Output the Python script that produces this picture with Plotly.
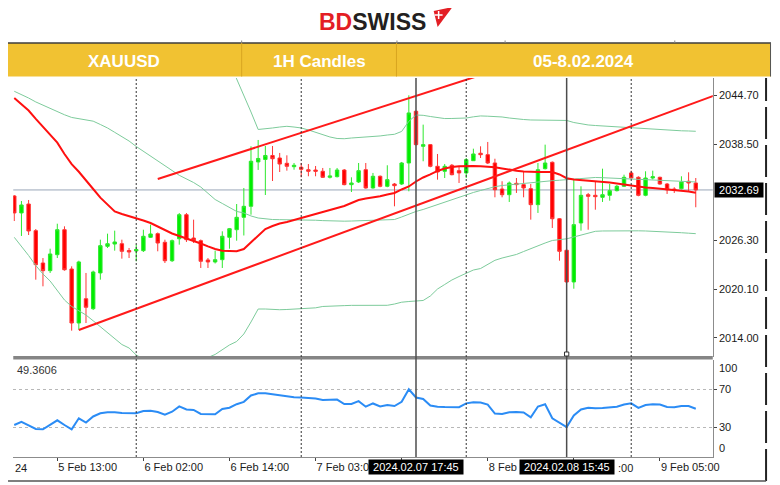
import plotly.graph_objects as go

# page offset: the browser body has an 8px margin, so the figure is sized to fit the 780x485 window
OFF = 8
W, H = 780 - OFF, 485 - OFF

# ---------------- data ----------------
sessions = [("5 Feb", 7, 23), ("6 Feb", 1, 23), ("7 Feb", 1, 23), ("8 Feb", 1, 23), ("9 Feb", 1, 10)]
times = [f"{d} {h:02d}:00" for d, a, b in sessions for h in range(a, b + 1)]
idx = list(range(len(times)))

opens = [2031.93, 2029.78, 2030.91, 2027.54, 2023.45, 2022.48, 2024.50, 2027.66, 2022.69, 2015.86,
         2018.93, 2017.67, 2022.19, 2025.56, 2025.85, 2025.89, 2025.03, 2024.97, 2025.01, 2026.70,
         2027.16, 2026.07, 2023.74, 2026.52, 2029.56, 2026.61, 2026.27, 2023.83, 2023.58, 2023.87,
         2026.70, 2027.66, 2029.23, 2030.62, 2036.23, 2036.54, 2037.05, 2036.73, 2036.06, 2035.63,
         2035.56, 2035.25, 2035.21, 2035.05, 2034.29, 2034.37, 2035.21, 2033.36, 2033.70, 2035.25,
         2032.94, 2034.42, 2033.15, 2033.44, 2033.44, 2036.10, 2042.64, 2038.21, 2038.42, 2035.68,
         2035.05, 2035.81, 2035.13, 2034.84, 2036.39, 2037.33, 2037.15, 2036.10, 2032.81, 2032.09,
         2033.53, 2033.36, 2032.85, 2030.83, 2035.38, 2036.19, 2029.05, 2025.06, 2021.05, 2028.51,
         2032.09, 2032.01, 2031.76, 2032.01, 2032.60, 2033.15, 2034.84, 2034.29, 2032.01, 2034.20,
         2034.29, 2033.44, 2032.81, 2032.85, 2033.79, 2033.57]
highs = [2032.05, 2031.29, 2031.42, 2027.75, 2024.08, 2025.26, 2028.42, 2028.09, 2023.03, 2023.74,
         2022.19, 2022.48, 2026.40, 2027.16, 2027.54, 2026.40, 2025.35, 2025.77, 2027.66, 2028.30,
         2027.31, 2026.40, 2026.42, 2029.77, 2029.77, 2028.93, 2026.42, 2024.08, 2025.01, 2027.46,
         2027.88, 2030.91, 2032.94, 2038.21, 2039.01, 2038.25, 2038.25, 2037.37, 2037.07, 2036.10,
         2036.10, 2035.97, 2035.72, 2035.47, 2035.47, 2035.47, 2035.34, 2034.29, 2036.10, 2036.10,
         2034.84, 2034.52, 2035.81, 2033.57, 2036.23, 2044.66, 2042.74, 2040.95, 2038.50, 2037.24,
         2035.97, 2035.97, 2035.68, 2036.73, 2037.91, 2038.21, 2038.76, 2036.64, 2033.79, 2033.76,
         2034.20, 2034.96, 2033.44, 2036.10, 2038.42, 2036.29, 2029.14, 2025.16, 2033.99, 2033.15,
         2032.31, 2033.79, 2035.38, 2033.44, 2033.32, 2034.62, 2035.13, 2034.42, 2035.05, 2035.13,
         2034.37, 2033.57, 2033.03, 2034.42, 2034.92, 2034.20]
lows = [2028.76, 2026.87, 2026.99, 2021.34, 2020.50, 2022.19, 2024.08, 2022.48, 2014.89, 2015.01,
        2015.86, 2017.50, 2021.34, 2025.35, 2025.01, 2024.00, 2024.08, 2023.66, 2024.84, 2026.61,
        2024.93, 2023.45, 2023.58, 2025.77, 2026.11, 2025.98, 2022.82, 2022.82, 2023.39, 2022.82,
        2025.26, 2026.27, 2026.93, 2029.56, 2035.22, 2032.05, 2033.82, 2034.96, 2035.13, 2035.25,
        2034.29, 2034.42, 2034.42, 2034.20, 2034.14, 2034.27, 2033.28, 2032.43, 2033.57, 2032.85,
        2032.85, 2033.03, 2033.03, 2030.62, 2033.32, 2032.52, 2038.31, 2036.32, 2035.56, 2033.99,
        2034.20, 2034.54, 2033.57, 2034.20, 2036.35, 2036.73, 2035.97, 2031.76, 2031.76, 2031.17,
        2032.31, 2031.76, 2028.93, 2029.78, 2035.28, 2027.88, 2023.74, 2020.92, 2020.20, 2027.54,
        2027.66, 2030.19, 2031.17, 2031.33, 2032.50, 2033.06, 2034.11, 2031.89, 2031.89, 2034.01,
        2033.36, 2032.18, 2032.31, 2032.75, 2032.52, 2030.50]
closes = [2029.78, 2030.79, 2027.50, 2023.24, 2022.48, 2024.59, 2027.66, 2022.60, 2015.86, 2023.58,
          2017.85, 2022.31, 2025.64, 2025.89, 2026.11, 2024.93, 2024.84, 2025.16, 2026.83, 2027.12,
          2025.98, 2023.74, 2026.27, 2029.56, 2026.40, 2026.27, 2023.67, 2023.58, 2023.87, 2026.83,
          2027.79, 2029.23, 2030.62, 2036.32, 2036.67, 2037.05, 2036.64, 2035.97, 2035.68, 2035.81,
          2035.30, 2035.05, 2035.05, 2034.29, 2034.46, 2035.21, 2033.36, 2033.57, 2035.13, 2032.94,
          2034.42, 2033.15, 2033.99, 2033.23, 2036.10, 2042.43, 2038.42, 2038.42, 2035.68, 2034.96,
          2035.68, 2034.62, 2034.84, 2036.52, 2037.24, 2037.15, 2036.10, 2032.72, 2032.09, 2033.57,
          2033.36, 2032.94, 2030.83, 2035.25, 2036.10, 2029.05, 2024.93, 2021.05, 2028.30, 2032.01,
          2031.89, 2031.84, 2032.09, 2032.60, 2033.15, 2034.29, 2034.20, 2032.01, 2034.20, 2034.37,
          2033.44, 2032.72, 2032.65, 2033.70, 2033.57, 2032.69]

ma_red = [2044.32, 2043.56, 2042.74, 2041.67, 2040.65, 2039.64, 2038.67, 2037.24, 2035.95, 2034.99,
          2033.97, 2032.81, 2031.72, 2030.82, 2029.97, 2029.65, 2029.40, 2029.14, 2028.83, 2028.51,
          2028.07, 2027.56, 2027.18, 2026.87, 2026.57, 2026.26, 2025.92, 2025.55, 2025.22, 2025.00,
          2024.94, 2024.93, 2025.22, 2026.04, 2026.93, 2027.75, 2028.13, 2028.45, 2028.64, 2028.89,
          2029.14, 2029.46, 2029.71, 2029.90, 2030.16, 2030.41, 2030.66, 2031.04, 2031.42, 2031.61,
          2031.74, 2031.90, 2032.12, 2032.31, 2032.75, 2033.13, 2033.76, 2034.27, 2034.65, 2035.09,
          2035.41, 2035.60, 2035.68, 2035.72, 2035.72, 2035.68, 2035.66, 2035.56, 2035.41, 2035.25,
          2035.13, 2035.03, 2034.96, 2034.96, 2034.96, 2034.96, 2034.65, 2034.18, 2034.01, 2033.95,
          2033.89, 2033.76, 2033.70, 2033.63, 2033.51, 2033.38, 2033.19, 2033.10, 2033.00, 2032.94,
          2032.85, 2032.77, 2032.69, 2032.62, 2032.49, 2032.34]

bb_upper = [2063.6, 2063.9, 2064.2, 2064.6, 2064.8, 2064.9, 2065.0, 2065.3, 2065.3, 2064.9,
            2064.3, 2063.3, 2062.3, 2061.4, 2060.5, 2059.6, 2058.9, 2058.0, 2057.3, 2056.6,
            2055.9, 2055.0, 2054.3, 2053.6, 2053.0, 2052.2, 2051.4, 2050.6, 2051.5, 2050.3,
            2048.9, 2046.73, 2044.70, 2042.55, 2040.34, 2040.40, 2040.53, 2040.65, 2040.74, 2040.65,
            2040.53, 2040.28, 2039.96, 2039.64, 2039.39, 2039.20, 2039.17, 2039.26, 2039.33, 2039.33,
            2039.39, 2039.52, 2039.64, 2039.73, 2040.09, 2041.37, 2042.17, 2042.13, 2041.98, 2041.86,
            2041.72, 2041.73, 2041.75, 2041.79, 2041.94, 2042.05, 2042.02, 2042.01, 2041.92, 2041.79,
            2041.67, 2041.60, 2041.54, 2041.52, 2041.49, 2041.48, 2041.47, 2041.48, 2041.22, 2041.03,
            2040.91, 2040.84, 2040.78, 2040.72, 2040.65, 2040.59, 2040.53, 2040.46, 2040.40, 2040.36,
            2040.31, 2040.28, 2040.21, 2040.17, 2040.15, 2040.11]
bb_mid = [2045.17, 2044.77, 2044.32, 2043.82, 2043.40, 2042.99, 2042.62, 2042.20, 2041.86, 2041.69,
          2041.54, 2041.39, 2040.97, 2040.53, 2039.98, 2039.45, 2038.88, 2038.19, 2037.56, 2036.99,
          2036.35, 2035.76, 2035.15, 2034.54, 2034.11, 2033.63, 2033.06, 2032.31, 2031.48, 2030.98,
          2030.47, 2029.97, 2029.78, 2029.40, 2029.14, 2029.02, 2028.95, 2028.93, 2028.93, 2028.93,
          2028.93, 2028.93, 2028.86, 2028.81, 2028.76, 2028.72, 2028.74, 2028.76, 2028.80, 2028.83,
          2028.85, 2028.89, 2028.92, 2028.95, 2029.27, 2029.65, 2029.97, 2030.22, 2030.54, 2030.85,
          2031.17, 2031.48, 2031.74, 2032.05, 2032.37, 2032.62, 2032.87, 2033.10, 2033.25, 2033.35,
          2033.44, 2033.54, 2033.63, 2033.70, 2033.79, 2033.86, 2033.92, 2033.99, 2034.04, 2034.10,
          2034.16, 2034.27, 2034.24, 2034.20, 2034.16, 2034.08, 2034.00, 2033.95, 2033.92, 2033.89,
          2033.86, 2033.82, 2033.79, 2033.75, 2033.72, 2033.70]
bb_lower = [2026.70, 2025.60, 2024.40, 2023.13, 2022.06, 2021.17, 2020.04, 2018.77, 2017.95, 2017.44,
            2016.87, 2016.14, 2015.42, 2014.59, 2013.90, 2013.14, 2012.70, 2011.81, 2011.31, 2010.93,
            2010.67, 2010.55, 2010.55, 2010.67, 2010.93, 2011.18, 2011.31, 2011.50, 2011.88, 2012.51,
            2013.08, 2013.52, 2014.47, 2015.99, 2017.63, 2017.63, 2017.57, 2017.54, 2017.57, 2017.61,
            2017.63, 2017.70, 2017.78, 2017.95, 2018.01, 2018.04, 2018.06, 2018.09, 2018.10, 2018.10,
            2018.10, 2018.10, 2018.10, 2018.26, 2018.49, 2018.58, 2018.60, 2018.71, 2019.28, 2020.16,
            2020.73, 2021.30, 2021.74, 2022.15, 2022.56, 2022.75, 2023.32, 2023.79, 2024.08, 2024.27,
            2024.53, 2024.90, 2025.28, 2025.66, 2025.98, 2026.30, 2026.42, 2026.51, 2026.74, 2026.99,
            2027.25, 2027.46, 2027.50, 2027.52, 2027.54, 2027.54, 2027.54, 2027.52, 2027.50, 2027.47,
            2027.46, 2027.41, 2027.35, 2027.28, 2027.22, 2027.16]

rsi = [32.4, 35.8, 31.9, 28.2, 27.9, 32.7, 37.3, 32.4, 27.9, 39.4,
       35.0, 41.3, 44.6, 45.7, 45.7, 44.9, 44.6, 44.6, 47.0, 47.3,
       46.0, 43.1, 46.3, 51.9, 48.7, 48.1, 43.9, 43.6, 43.6, 49.1,
       50.5, 54.1, 56.6, 63.2, 65.5, 65.5, 64.3, 63.2, 62.4, 61.4,
       61.2, 60.6, 60.0, 58.5, 58.9, 59.0, 54.3, 54.3, 57.3, 51.5,
       54.9, 51.7, 53.3, 52.2, 56.6, 69.7, 61.1, 59.6, 52.8, 51.5,
       51.2, 50.9, 51.0, 55.0, 56.2, 55.9, 53.8, 44.4, 43.9, 45.7,
       46.0, 45.5, 40.4, 51.7, 54.0, 39.4, 35.2, 30.3, 42.3, 48.6,
       50.4, 49.9, 50.2, 50.9, 51.4, 53.8, 55.0, 50.2, 53.3, 54.0,
       53.8, 51.2, 50.9, 52.2, 52.2, 49.36]
rsi_value_text = "49.3606"
rsi_levels = [70, 30]

last_price = 2032.69
price_ticks = [2044.70, 2038.50, 2026.30, 2020.10, 2014.00]

channel_lower_i = [9, 100]
channel_lower_p = [2014.975, 2045.45]
channel_upper_i = [20, 70]
channel_upper_p = [2034.08, 2048.67]

crosshairs = [("7 Feb 17:00", "2024.02.07 17:45"), ("8 Feb 15:00", "2024.02.08 15:45")]
header_cells = ["XAUUSD", "1H Candles", "05-8.02.2024"]

# time-axis labels every 12 candles; parts hidden behind the crosshair date boxes are left out
tick_idx = list(range(6, len(times), 12))
visible_label = {"7 Feb 03:00": "7 Feb 03:0", "7 Feb 15:00": "", "8 Feb 04:00": "8 Feb", "8 Feb 16:00": ""}
tick_txt = [visible_label.get(times[i], times[i]) for i in tick_idx]
first_label_tail = "24"      # end of the "5 Feb 2024" label, cut at the left edge
hidden_label_tail = ":00"    # end of the "8 Feb 16:00" label, right of the date box

# ---------------- derived ----------------
sep_idx = [i for i, t in enumerate(times) if t.endswith(" 01:00")]
cross_idx = [times.index(t) for t, _ in crosshairs]


def px(x):
    return (x - OFF) / W


def py(y):
    return 1 - (y - OFF) / H


XL, XR = 13.3, 718.3
MAIN_T, MAIN_B = 78, 357
RSI_T, RSI_B = 360, 457
x_range = [-0.14, 97.37]

TF = "Liberation Sans, Arial, sans-serif"
GREEN_BB = "#7dcb9b"

fig = go.Figure()
for band in (bb_upper, bb_mid, bb_lower):
    fig.add_trace(go.Scatter(x=idx, y=band, mode="lines", line=dict(color=GREEN_BB, width=1),
                             hoverinfo="skip", showlegend=False))
fig.add_trace(go.Candlestick(
    x=idx, open=opens, high=highs, low=lows, close=closes,
    increasing=dict(line=dict(color="#2ee82e", width=1), fillcolor="#00ee00"),
    decreasing=dict(line=dict(color="#ff3535", width=1), fillcolor="#ff0000"),
    whiskerwidth=0, hoverinfo="skip", showlegend=False))
fig.add_trace(go.Scatter(x=idx, y=ma_red, mode="lines", line=dict(color="#ff1010", width=2),
                         hoverinfo="skip", showlegend=False))
for xi, yp in ((channel_lower_i, channel_lower_p), (channel_upper_i, channel_upper_p)):
    fig.add_trace(go.Scatter(x=xi, y=yp, mode="lines", line=dict(color="#ff1a1a", width=2),
                             hoverinfo="skip", showlegend=False))
fig.add_trace(go.Scatter(x=idx, y=rsi, mode="lines", line=dict(color="#2b8cf5", width=2),
                         xaxis="x2", yaxis="y2", hoverinfo="skip", showlegend=False))

shapes = []
# header band
shapes.append(dict(type="rect", xref="paper", yref="paper", x0=px(8), x1=px(777), y0=py(76.5), y1=py(43),
                   fillcolor="#F1C232", line=dict(width=0), layer="below"))
shapes.append(dict(type="line", xref="paper", yref="paper", x0=px(8), x1=px(777), y0=py(43), y1=py(43),
                   line=dict(color="#3c3c3c", width=1.5)))
shapes.append(dict(type="line", xref="paper", yref="paper", x0=px(776.5), x1=px(776.5), y0=py(43), y1=py(76.5),
                   line=dict(color="#555555", width=1)))
for xx in (243.5, 399.5):
    shapes.append(dict(type="line", xref="paper", yref="paper", x0=px(xx), x1=px(xx), y0=py(43), y1=py(76.5),
                       line=dict(color="#d8a520", width=1)))
for xx in (243.5, 400, 509, 680):
    shapes.append(dict(type="line", xref="paper", yref="paper", x0=px(xx), x1=px(xx), y0=py(40.5), y1=py(43),
                       line=dict(color="#888888", width=1)))
# logo icon
shapes.append(dict(type="path", xref="paper", yref="paper",
                   path=f"M {px(437)},{py(11)} L {px(456)},{py(7)} L {px(441)},{py(27)} Z",
                   fillcolor="#E31E24", line=dict(width=0)))
shapes.append(dict(type="line", xref="paper", yref="paper", x0=px(438), x1=px(446), y0=py(15), y1=py(15),
                   line=dict(color="white", width=1.5)))
shapes.append(dict(type="line", xref="paper", yref="paper", x0=px(442), x1=px(442), y0=py(11), y1=py(19),
                   line=dict(color="white", width=1.5)))
# last price line
shapes.append(dict(type="line", xref="paper", yref="y", x0=px(XL), x1=px(XR), y0=last_price, y1=last_price,
                   line=dict(color="#9aa6b8", width=1), layer="below"))
# panel separator
shapes.append(dict(type="rect", xref="paper", yref="paper", x0=px(XL), x1=px(XR), y0=py(359.5), y1=py(356),
                   fillcolor="#858585", line=dict(width=0)))
# day separators and crosshairs
for i in sep_idx:
    shapes.append(dict(type="line", xref="x", yref="paper", x0=i, x1=i, y0=py(RSI_B), y1=py(MAIN_T),
                       line=dict(color="#333333", width=1, dash="2px,2px")))
for i in cross_idx:
    shapes.append(dict(type="line", xref="x", yref="paper", x0=i, x1=i, y0=py(RSI_B), y1=py(MAIN_T),
                       line=dict(color="#4d4d4d", width=1.5)))
# small marker at the bottom of the second crosshair
shapes.append(dict(type="rect", xref="x", yref="paper", x0=cross_idx[1] - 0.3, x1=cross_idx[1] + 0.3,
                   y0=py(356), y1=py(352), fillcolor="white", line=dict(color="#333333", width=1)))
# outer frame fragments
shapes.append(dict(type="line", xref="paper", yref="paper", x0=px(772), x1=px(772), y0=py(481), y1=py(78),
                   line=dict(color="#222222", width=2, dash="32px,6px")))
shapes.append(dict(type="line", xref="paper", yref="paper", x0=px(8), x1=px(772), y0=py(481), y1=py(481),
                   line=dict(color="#555555", width=1.5)))

ann = []
ann.append(dict(xref="paper", yref="paper", x=px(320), y=py(8), xanchor="left", yanchor="top",
                text="<b><span style='color:#E31E24'>BD</span>SWISS</b>", showarrow=False, borderpad=0,
                font=dict(family=TF, size=23, color="#231F20")))
for txt, cx in zip(header_cells, (125, 321.5, 588.5)):
    ann.append(dict(xref="paper", yref="paper", x=px(cx), y=py(61), xanchor="center", yanchor="middle",
                    text=f"<b>{txt}</b>", showarrow=False, font=dict(family=TF, size=17, color="white")))
ann.append(dict(xref="paper", yref="y", x=px(719.5), y=last_price, xanchor="left", yanchor="middle",
                text="\u00a0" + f"{last_price:.2f}" + "\u00a0", showarrow=False, bgcolor="black", borderpad=1,
                font=dict(family=TF, size=11, color="white")))
for i, (_, lab) in zip(cross_idx, crosshairs):
    ann.append(dict(xref="x2", yref="paper", x=i, y=py(466.5), xanchor="center", yanchor="middle",
                    text="\u00a0" + lab + "\u00a0", showarrow=False, bgcolor="black", borderpad=1,
                    font=dict(family=TF, size=11, color="white")))
ann.append(dict(xref="paper", yref="paper", x=px(13.5), y=py(468), xanchor="left", yanchor="middle",
                text=first_label_tail, showarrow=False, font=dict(family=TF, size=11, color="#1a1a1a")))
ann.append(dict(xref="paper", yref="paper", x=px(621), y=py(468), xanchor="left", yanchor="middle",
                text=hidden_label_tail, showarrow=False, font=dict(family=TF, size=11, color="#1a1a1a")))
ann.append(dict(xref="paper", yref="paper", x=px(15), y=py(370), xanchor="left", yanchor="middle",
                text=rsi_value_text, showarrow=False, font=dict(family=TF, size=11, color="#333333")))
ann.append(dict(xref="paper", yref="y2", x=px(723), y=100, xanchor="left", yanchor="top",
                text="100", showarrow=False, font=dict(family=TF, size=11, color="#1a1a1a")))
ann.append(dict(xref="paper", yref="y2", x=px(723), y=0, xanchor="left", yanchor="bottom",
                text="0", showarrow=False, font=dict(family=TF, size=11, color="#1a1a1a")))

tickfont = dict(family=TF, size=11, color="#1a1a1a")
fig.update_layout(
    width=W, height=H, autosize=False, margin=dict(l=0, r=0, t=0, b=0),
    paper_bgcolor="white", plot_bgcolor="white", showlegend=False, boxgap=0.32,
    xaxis=dict(domain=[px(XL), px(XR)], range=x_range, anchor="y", showticklabels=False, showgrid=False,
               zeroline=False, showline=False, ticks="", rangeslider=dict(visible=False), fixedrange=True),
    yaxis=dict(domain=[py(MAIN_B), py(MAIN_T)], range=[2011.56, 2046.85], side="right", anchor="x",
               showline=True, linecolor="#8c8c8c", linewidth=1, ticks="outside", ticklen=3, tickcolor="#444",
               tickvals=price_ticks, ticktext=[f"{v:.2f}" for v in price_ticks], tickfont=tickfont,
               showgrid=False, zeroline=False, fixedrange=True),
    xaxis2=dict(domain=[px(XL), px(XR)], range=x_range, anchor="y2", showline=True, linecolor="#8c8c8c",
                linewidth=1, ticks="outside", ticklen=3, tickcolor="#444", tickvals=tick_idx, ticktext=tick_txt,
                ticklabelposition="outside right", tickfont=tickfont, showgrid=False, zeroline=False,
                fixedrange=True),
    yaxis2=dict(domain=[py(RSI_B), py(RSI_T)], range=[-1.02, 100.29], side="right", anchor="x2",
                showline=True, linecolor="#8c8c8c", linewidth=1, ticks="outside", ticklen=3, tickcolor="#444",
                tickvals=rsi_levels, ticktext=[str(v) for v in rsi_levels], tickfont=tickfont,
                showgrid=True, gridcolor="#b8b8b8", griddash="dot", gridwidth=1, zeroline=False,
                fixedrange=True),
    shapes=shapes, annotations=ann,
)

fig.write_html("out.html")
